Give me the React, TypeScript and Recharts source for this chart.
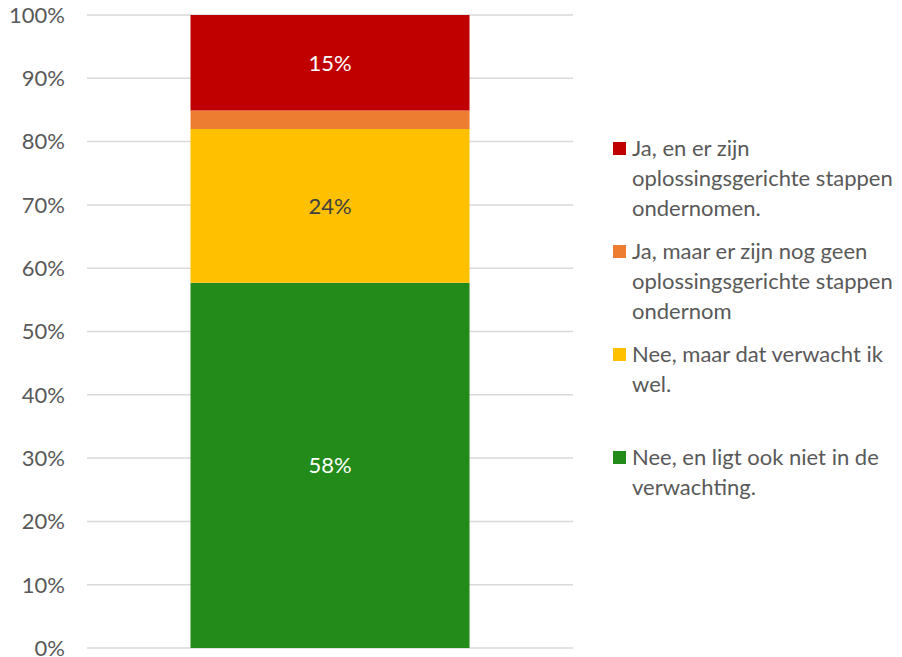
import { Bar, BarChart, CartesianGrid, LabelList, Legend, XAxis, YAxis } from "recharts";

const categories = [""];
const seriesNames = [
  "Nee, en ligt ook niet in de verwachting.",
  "Nee, maar dat verwacht ik wel.",
  "Ja, maar er zijn nog geen oplossingsgerichte stappen ondernom",
  "Ja, en er zijn oplossingsgerichte stappen ondernomen.",
];
const greenValues = [57.7];
const yellowValues = [24.3];
const orangeValues = [2.9];
const redValues = [15.1];
const yTicks = [0, 10, 20, 30, 40, 50, 60, 70, 80, 90, 100];
const legendOrder = ["red", "orange", "yellow", "green"];

const FONT = "Lato, 'Liberation Sans', sans-serif";
const TEXT = "#595959";
const FS = 22;

const data = categories.map((c, i) => ({
  name: c,
  green: greenValues[i],
  yellow: yellowValues[i],
  orange: orangeValues[i],
  red: redValues[i],
}));

const pct = (v: unknown) => `${Math.round(Number(v))}%`;

function LegendBox({ payload }: any) {
  const items = [...(payload ?? [])].sort(
    (a: any, b: any) => legendOrder.indexOf(a.dataKey) - legendOrder.indexOf(b.dataKey)
  );
  return (
    <div style={{ fontFamily: FONT, fontSize: FS, color: TEXT }}>
      {items.map((p: any) => (
        <div key={p.value} style={{ display: "flex", height: 103, lineHeight: "30px" }}>
          <div
            style={{
              width: 13,
              height: 13,
              background: p.color,
              marginTop: 9,
              marginRight: 6,
              flex: "none",
            }}
          />
          <div style={{ width: 270 }}>{p.value}</div>
        </div>
      ))}
    </div>
  );
}

export default function App() {
  return (
    <div style={{ position: "absolute", left: 0, top: 0 }}>
      <BarChart
        width={902}
        height={657}
        data={data}
        margin={{ top: 15, right: 329, bottom: 9, left: 0 }}
        barCategoryGap="21.3%"
      >
        <CartesianGrid vertical={false} stroke="#d9d9d9" strokeWidth={1.5} />
        <XAxis dataKey="name" hide />
        <YAxis
          domain={[0, 100]}
          ticks={yTicks}
          interval={0}
          width={87}
          axisLine={false}
          tickLine={false}
          tickMargin={16}
          tickFormatter={(v) => `${v}%`}
          tick={{ fill: TEXT, fontSize: FS, fontFamily: FONT }}
        />
        <Legend
          layout="vertical"
          align="center"
          verticalAlign="middle"
          content={<LegendBox />}
          wrapperStyle={{ position: "absolute", left: 613, top: 133, width: 289 }}
        />
        <Bar dataKey="green" name={seriesNames[0]} stackId="a" fill="#228B1A" isAnimationActive={false}>
          <LabelList dataKey="green" position="center" formatter={pct} fill="#ffffff" fontSize={FS} fontFamily={FONT} />
        </Bar>
        <Bar dataKey="yellow" name={seriesNames[1]} stackId="a" fill="#FFC000" isAnimationActive={false}>
          <LabelList dataKey="yellow" position="center" formatter={pct} fill="#404040" fontSize={FS} fontFamily={FONT} />
        </Bar>
        <Bar dataKey="orange" name={seriesNames[2]} stackId="a" fill="#ED7D31" isAnimationActive={false} />
        <Bar dataKey="red" name={seriesNames[3]} stackId="a" fill="#C00000" isAnimationActive={false}>
          <LabelList dataKey="red" position="center" formatter={pct} fill="#ffffff" fontSize={FS} fontFamily={FONT} />
        </Bar>
      </BarChart>
    </div>
  );
}
